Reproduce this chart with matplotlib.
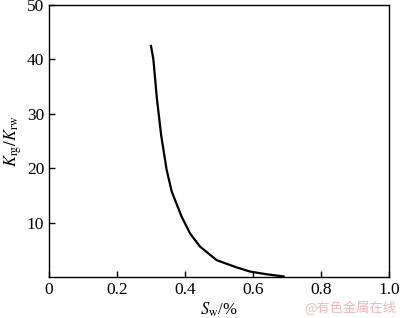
import matplotlib.pyplot as plt

sw = [0.30, 0.307, 0.317, 0.33, 0.346, 0.361, 0.39, 0.415, 0.444, 0.493, 0.55, 0.591, 0.64, 0.69]
ratio = [42.5, 40.0, 33.0, 26.0, 19.7, 15.7, 11.1, 8.0, 5.6, 3.1, 1.8, 1.0, 0.5, 0.1]

plt.rcParams['font.family'] = 'Liberation Serif'
plt.rcParams['mathtext.fontset'] = 'stix'

fig = plt.figure(figsize=(4.0, 3.18), dpi=100)
ax = fig.add_axes([0.1225, 0.129, 0.85, 0.855])
ax.plot(sw, ratio, color='black', linewidth=1.6)

ax.set_xlim(0, 1.0)
ax.set_ylim(0, 50)
ax.set_xticks([0, 0.2, 0.4, 0.6, 0.8, 1.0])
ax.set_xticklabels(['0', '0.2', '0.4', '0.6', '0.8', '1.0'])
ax.set_yticks([10, 20, 30, 40, 50])
ax.tick_params(direction='in', labelsize=12.5, length=4, width=1)
for s in ax.spines.values():
    s.set_linewidth(1)

ax.set_xlabel(r'$S_{\rm w}$/%', fontsize=12, labelpad=2)
ax.set_ylabel(r'$K_{\rm rg}/K_{\rm rw}$', fontsize=12, labelpad=2)

fig.text(0.99, 0.008, '@有色金属在线', color='#f0b8b8', fontsize=9.5,
         ha='right', va='bottom', family=['Noto Sans CJK SC', 'DejaVu Sans'])

fig.savefig('out.png', dpi=100)
